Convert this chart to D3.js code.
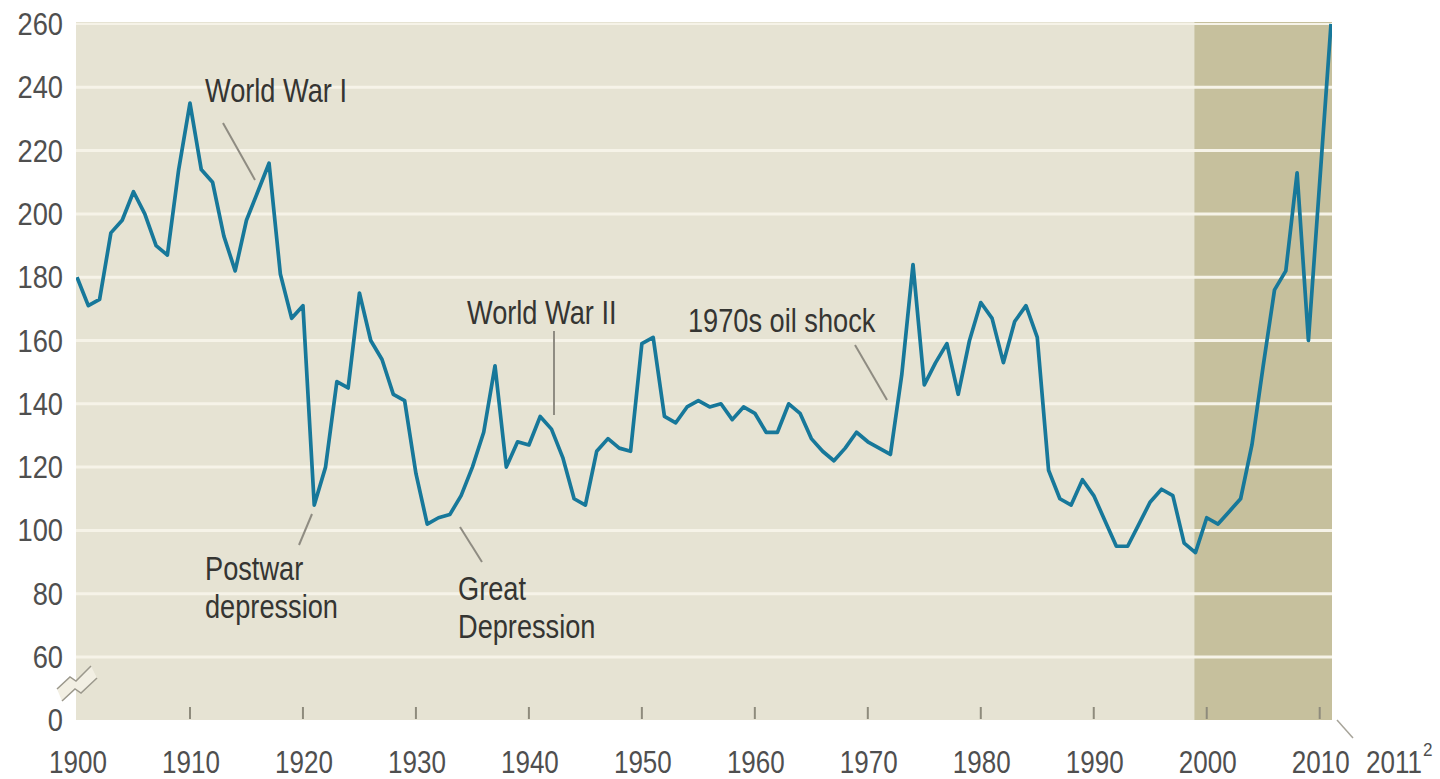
<!DOCTYPE html>
<html>
<head>
<meta charset="utf-8">
<script src="https://cdn.jsdelivr.net/npm/d3@7"></script>
<style>
  html, body { margin: 0; padding: 0; background: #ffffff; }
  svg { display: block; }
  text { font-family: "Liberation Sans", Arial, sans-serif; }
</style>
</head>
<body>
<svg id="chart" width="1440" height="779"></svg>
<script>
// ---------------- DATA ----------------
const firstYear = 1900;
const lastYear = 2011;
const years = d3.range(firstYear, lastYear + 1);
const values = [
  180, 171, 173, 194, 198, 207, 200, 190, 187, 214,   // 1900-1909
  235, 214, 210, 193, 182, 198, 207, 216, 181, 167,   // 1910-1919
  171, 108, 120, 147, 145, 175, 160, 154, 143, 141,   // 1920-1929
  118, 102, 104, 105, 111, 120, 131, 152, 120, 128,   // 1930-1939
  127, 136, 132, 123, 110, 108, 125, 129, 126, 125,   // 1940-1949
  159, 161, 136, 134, 139, 141, 139, 140, 135, 139,   // 1950-1959
  137, 131, 131, 140, 137, 129, 125, 122, 126, 131,   // 1960-1969
  128, 126, 124, 149, 184, 146, 153, 159, 143, 160,   // 1970-1979
  172, 167, 153, 166, 171, 161, 119, 110, 108, 116,   // 1980-1989
  111, 103, 95, 95, 102, 109, 113, 111, 96, 93,       // 1990-1999
  104, 102, 106, 110, 127, 152, 176, 182, 213, 160,   // 2000-2009
  210, 260                                            // 2010-2011
];
const yTickValues = [0, 60, 80, 100, 120, 140, 160, 180, 200, 220, 240, 260];
const gridValues = [60, 80, 100, 120, 140, 160, 180, 200, 220, 240, 260];
const xTickYears = [1900, 1910, 1920, 1930, 1940, 1950, 1960, 1970, 1980, 1990, 2000, 2010];
const shadeStartYear = 1999;
const annotations = [
  { lines: ["World War I"], x: 205, y: 102, leader: [[223, 123], [255, 180]] },
  { lines: ["World War II"], x: 467, y: 324, leader: [[554, 331], [554, 415]] },
  { lines: ["1970s oil shock"], x: 688, y: 332, leader: [[855, 345], [887, 400]] },
  { lines: ["Postwar", "depression"], x: 205, y: 580, leader: [[312, 514], [299, 545]] },
  { lines: ["Great", "Depression"], x: 458, y: 600, leader: [[460, 527], [482, 562]] }
];

// ---------------- LAYOUT ----------------
const svg = d3.select("#chart");
const plot = { left: 76, right: 1332, top: 22, bottom: 720 };

const x = d3.scaleLinear().domain([firstYear, lastYear]).range([77, 1331]);
// broken axis: 0 -> 60 compressed
const y = d3.scaleLinear().domain([0, 60, 260]).range([720, 657, 24]);

const data = years.map((yr, i) => ({ year: yr, value: values[i] }));

// background
svg.append("rect")
  .attr("x", plot.left).attr("y", plot.top)
  .attr("width", plot.right - plot.left).attr("height", plot.bottom - plot.top)
  .attr("fill", "#e6e3d3");

// shaded recent area
svg.append("rect")
  .attr("x", x(shadeStartYear) - 1).attr("y", plot.top)
  .attr("width", plot.right - (x(shadeStartYear) - 1)).attr("height", plot.bottom - plot.top)
  .attr("fill", "#c6c09d");

// gridlines
svg.append("g").selectAll("line")
  .data(gridValues)
  .join("line")
  .attr("x1", plot.left).attr("x2", plot.right)
  .attr("y1", d => y(d)).attr("y2", d => y(d))
  .attr("stroke", "#f6f3e8")
  .attr("stroke-width", d => d === 260 ? 2 : 3);

// x tick marks (inside the plot, at bottom)
svg.append("g").selectAll("line")
  .data(xTickYears.filter(d => d !== 1900))
  .join("line")
  .attr("x1", d => x(d)).attr("x2", d => x(d))
  .attr("y1", 707).attr("y2", 719)
  .attr("stroke", "#8e8b7c")
  .attr("stroke-width", 2);

// helper for condensed text
function condText(g, str, tx, ty, size, sx, anchor, fill) {
  return g.append("text")
    .attr("transform", `translate(${tx},${ty}) scale(${sx},1)`)
    .attr("text-anchor", anchor)
    .attr("font-size", size)
    .attr("fill", fill)
    .text(str);
}

// y labels
const yl = svg.append("g");
yTickValues.forEach(v => {
  condText(yl, String(v), 63, y(v) + 11, 31, 0.88, "end", "#4f4f4f");
});

// x labels
const xl = svg.append("g");
xTickYears.forEach(yr => {
  condText(xl, String(yr), x(yr) + 1, 773, 31, 0.84, "middle", "#4f4f4f");
});
// 2011 label with superscript and leader
condText(xl, "2011", 1366, 773, 31, 0.84, "start", "#4f4f4f");
condText(xl, "2", 1423, 756, 19, 0.9, "start", "#4f4f4f");
svg.append("line")
  .attr("x1", x(lastYear) + 6).attr("y1", plot.bottom)
  .attr("x2", x(lastYear) + 22).attr("y2", 738)
  .attr("stroke", "#a7a49a").attr("stroke-width", 1.5);

// axis break symbol
const brk = svg.append("g");
const zA = [[57, 689], [70, 677], [76, 681], [91, 666]];
const zB = [[62, 701], [75, 689], [81, 693], [97, 678]];
brk.append("path")
  .attr("d", d3.line()(zA.concat(zB.slice().reverse())) + "Z")
  .attr("fill", "#f2efe3").attr("stroke", "none");
brk.append("path").attr("d", d3.line()(zA))
  .attr("fill", "none").attr("stroke", "#9b988c").attr("stroke-width", 1.5);
brk.append("path").attr("d", d3.line()(zB))
  .attr("fill", "none").attr("stroke", "#9b988c").attr("stroke-width", 1.5);

// annotations
const ann = svg.append("g");
annotations.forEach(a => {
  ann.append("line")
    .attr("x1", a.leader[0][0]).attr("y1", a.leader[0][1])
    .attr("x2", a.leader[1][0]).attr("y2", a.leader[1][1])
    .attr("stroke", "#8f8c82").attr("stroke-width", 2);
  a.lines.forEach((s, i) => {
    condText(ann, s, a.x, a.y + i * 38, 34, 0.8, "start", "#353532");
  });
});

// data line
const clipId = "plotclip";
svg.append("clipPath").attr("id", clipId)
  .append("rect")
  .attr("x", plot.left).attr("y", plot.top)
  .attr("width", plot.right - plot.left).attr("height", plot.bottom - plot.top);

svg.append("path")
  .datum(data)
  .attr("clip-path", `url(#${clipId})`)
  .attr("fill", "none")
  .attr("stroke", "#17789a")
  .attr("stroke-width", 3.7)
  .attr("stroke-linejoin", "round")
  .attr("d", d3.line().x(d => x(d.year)).y(d => y(d.value)));
</script>
</body>
</html>
